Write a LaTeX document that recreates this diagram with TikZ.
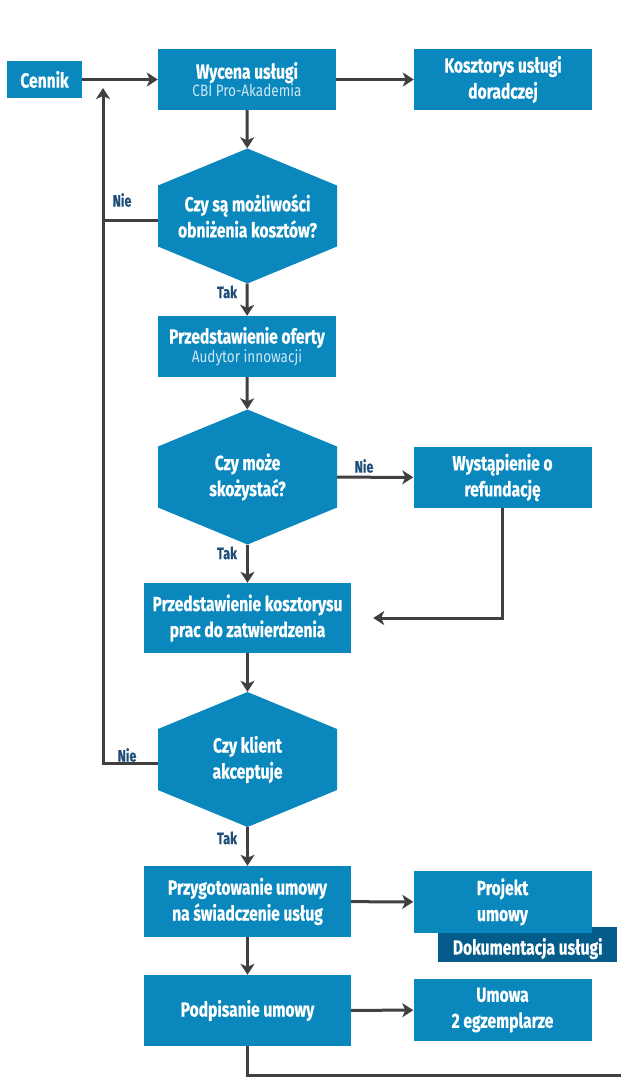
\documentclass[tikz,border=0pt]{standalone}
\usepackage{fontspec}
\setmainfont{Fira Sans}[FakeStretch=0.76, BoldFeatures={FakeBold=0.5}]
\newfontfamily\subfont{Fira Sans}[FakeStretch=0.82]
\usetikzlibrary{arrows.meta,calc}
\definecolor{boxblue}{HTML}{0A88BE}
\definecolor{darkblue}{HTML}{045C8A}
\definecolor{lblblue}{HTML}{1F4E79}
\definecolor{linegray}{HTML}{404040}
\definecolor{subtext}{HTML}{CDE6F3}
\newcommand\subline[1]{{\subfont\mdseries\fontsize{16.5}{18}\selectfont\color{subtext}#1}}
\tikzset{
  box/.style={rectangle, fill=boxblue, text=white, inner sep=0pt, align=center,
    minimum width=#1, font=\bfseries\fontsize{20.5}{26}\selectfont},
  box/.default=178pt,
  hexbox/.style={rectangle, inner sep=0pt, align=center, text=white,
    minimum width=179pt, minimum height=135pt,
    font=\bfseries\fontsize{20.5}{26}\selectfont,
    path picture={\fill[boxblue] (path picture bounding box.north)
      -- ([yshift=-37pt]path picture bounding box.north east)
      -- ([yshift=37pt]path picture bounding box.south east)
      -- (path picture bounding box.south)
      -- ([yshift=37pt]path picture bounding box.south west)
      -- ([yshift=-37pt]path picture bounding box.north west) -- cycle;}},
  ln/.style={draw=linegray, line width=3pt},
  arr/.style={ln, -{Stealth[length=11pt,width=14pt,inset=3pt]}},
  lbl/.style={text=lblblue, font=\bfseries\fontsize{16.5}{18}\selectfont, inner sep=0pt},
}
\begin{document}
\begin{tikzpicture}[x=1pt,y=-1pt]
  \useasboundingbox[fill=white] (0,0) rectangle (621,1077);

  % boxes and decisions
  \node[box=75pt, minimum height=37pt] (cennik) at (44.5,79.5) {Cennik};
  \node[box, minimum height=61pt] (wycena) at (247,79.5)
    {Wycena usługi\\[-8pt]\subline{CBI Pro-Akademia}};
  \node[box, minimum height=61pt] (koszt) at (503,79.5) {Kosztorys usługi\\doradczej};
  \node[hexbox] (h1) at (247.5,216) {Czy są możliwości\\obniżenia kosztów?};
  \node[box, minimum height=61pt] (oferta) at (247,346.5)
    {Przedstawienie oferty\\[-7pt]\subline{Audytor innowacji}};
  \node[hexbox] (h2) at (247.5,477) {Czy może\\skożystać?};
  \node[box, minimum height=61pt] (refund) at (502.5,477.5) {Wystąpienie o\\refundację};
  \node[box=207pt, minimum height=70pt] (kosztorys) at (247.5,618) {Przedstawienie kosztorysu\\prac do zatwierdzenia};
  \node[hexbox] (h3) at (247.5,759.5) {Czy klient\\akceptuje};
  \node[box=207pt, minimum height=71pt] (przyg) at (247.5,901.5) {Przygotowanie umowy\\na świadczenie usług};
  \node[rectangle, fill=darkblue, text=white, inner sep=0pt, minimum width=179pt, minimum height=35pt,
    font=\bfseries\fontsize{20.5}{26}\selectfont, anchor=south west, text depth=0pt] (dok) at (438,962)
    {\raisebox{-4pt}{Dokumentacja usługi}};
  \node[box, minimum height=62pt] (projekt) at (502.5,902) {Projekt\\umowy};
  \node[box=207pt, minimum height=71pt] (podp) at (247.5,1010.5) {Podpisanie umowy};
  \node[box, minimum height=62pt] (umowa) at (502.5,1010) {Umowa\\2 egzemplarze};

  % connectors
  \coordinate (back) at (103,88);
  \coordinate (endR) at (621,1075);
  \draw[arr] (cennik) -- (wycena);
  \draw[arr] (wycena) -- (koszt);
  \draw[arr] (wycena) -- (h1);
  \draw[arr] (h1) -- (oferta);
  \draw[arr] (oferta) -- (h2);
  \draw[arr] (h2) -- (refund);
  \draw[arr] (h2) -- (kosztorys);
  \draw[arr] (refund.south) |- ([xshift=22pt]kosztorys.east);
  \draw[arr] (kosztorys) -- (h3);
  \draw[arr] ([yshift=-4pt]h3.west) -| (back);
  \draw[ln] ([yshift=-4pt]h1.west) -- ([yshift=-4pt]h1.west -| back);
  \draw[arr] (h3) -- (przyg);
  \draw[arr] (przyg) -- (projekt);
  \draw[arr] (przyg) -- (podp);
  \draw[arr] (podp) -- (umowa);
  \draw[ln] (podp.south) |- (endR);

  % branch labels
  \node[lbl] (n1) at (122,200) {Nie};
  \node[lbl] (t1) at (227,292) {Tak};
  \node[lbl] (n2) at (364,466) {Nie};
  \node[lbl] (t2) at (227,553) {Tak};
  \node[lbl] (n3) at (127,755) {Nie};
  \node[lbl] (t3) at (227,838) {Tak};
\end{tikzpicture}
\end{document}
